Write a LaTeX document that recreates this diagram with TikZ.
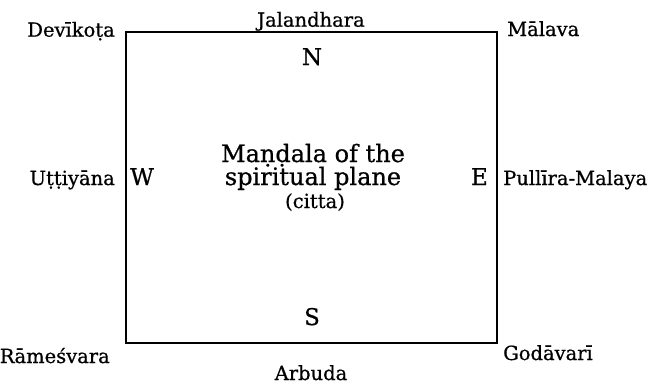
\documentclass[tikz,border=0pt]{standalone}
\usepackage{fontspec}
\setmainfont{DejaVu Serif}
\newfontfamily\inkfont{DejaVu Serif}[FakeBold=0.7]
\usepackage{tikz}
\usetikzlibrary{positioning}
\tikzset{
  place/.style={font=\inkfont\fontsize{19.5}{21}\selectfont,inner sep=0pt},
  quarter/.style={font=\inkfont\fontsize{23}{25}\selectfont,inner sep=0pt},
  title/.style={font=\inkfont\fontsize{24}{23}\selectfont,align=center,inner sep=0pt},
  frame/.style={line width=1.7pt},
}

\begin{document}
\begin{tikzpicture}[x=1pt,y=-1pt]
  \useasboundingbox (0,0) rectangle (654,384);
  \coordinate (nw) at (126,32); \coordinate (se) at (497,343);
  \draw[frame] (nw) rectangle (se);
  % corners and sides
  \node[place,anchor=base east] (devikota) at (115,36.7) {Devīkoṭa};
  \node[place,anchor=base] (jalandhara) at (311,26.7) {Jalandhara};
  \node[place,anchor=base west] (malava) at (507,36) {Mālava};
  \node[place,anchor=base east] (uttiyana) at (115,185) {Uṭṭiyāna};
  \node[place,anchor=base west] (pullira) at (503,185) {Pullīra-Malaya};
  \node[place,anchor=base east] (ramesvara) at (110,363) {Rāmeśvara};
  \node[place,anchor=base] (arbuda) at (311,380) {Arbuda};
  \node[place,anchor=base west] (godavari) at (503,360) {Godāvarī};
  % quarters
  \node[quarter,anchor=base] (north) at (312,65) {N};
  \node[quarter,anchor=base] (south) at (312,325) {S};
  \node[quarter,anchor=base west] (west) at (130,185) {W};
  \node[quarter,anchor=base east] (east) at (488,185) {E};
  % centre
  \node[title,anchor=base] (mandala) at (313,162) {Maṇḍala of the};
  \node[title,anchor=base] (plane) at (313,185) {spiritual plane};
  \node[place,anchor=base] (citta) at (315,208) {(citta)};
\end{tikzpicture}
\end{document}
